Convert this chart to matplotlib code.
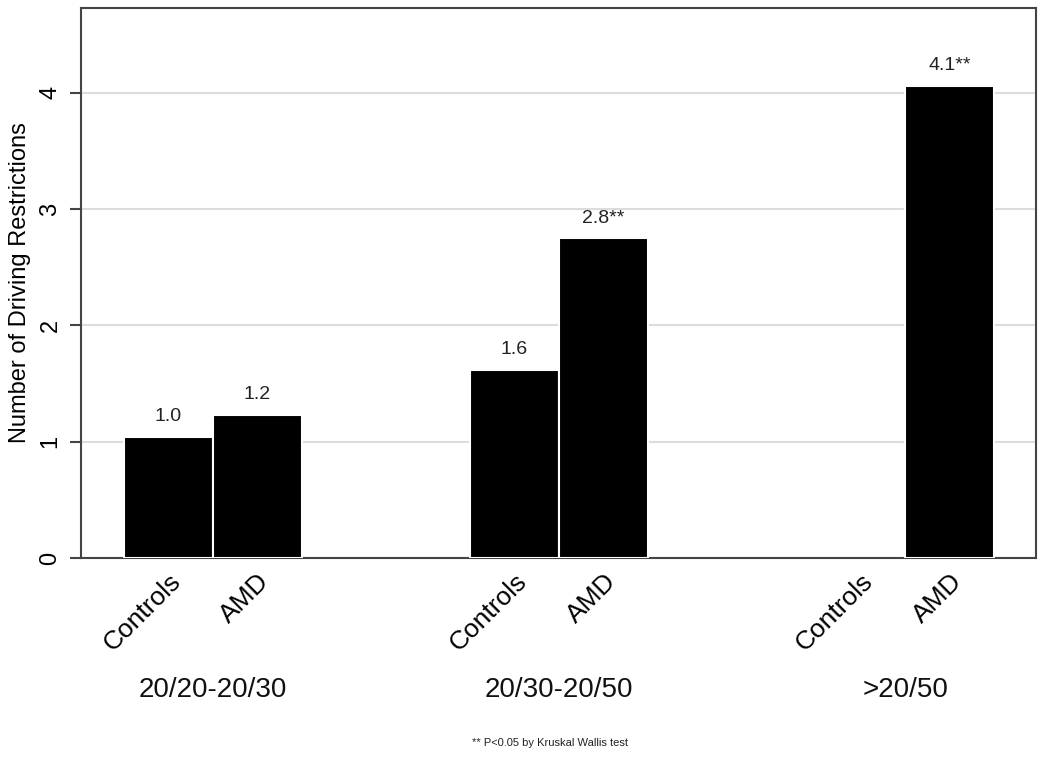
import matplotlib
matplotlib.use("Agg")
import matplotlib.pyplot as plt
import matplotlib.transforms as mtransforms
import numpy as np

plt.rcParams['font.family'] = ['Liberation Sans', 'DejaVu Sans']

groups = ["20/20-20/30", "20/30-20/50", ">20/50"]
subjects = ["Controls", "AMD"]
values = [[1.04, 1.23], [1.62, 2.75], [np.nan, 4.06]]
labels = [["1.0", "1.2"], ["1.6", "2.8**"], ["", "4.1**"]]
footnote = "** P<0.05 by Kruskal Wallis test"

fig = plt.figure(figsize=(10.5, 7.59), dpi=100)
ax = fig.add_axes([81/1050, 1-558/759, (1036-81)/1050, (558-8)/759])

group_step = 3.89
width = 1.0
tick_pos = []
tick_lab = []
for g, grp in enumerate(groups):
    c = g * group_step
    for s, sub in enumerate(subjects):
        x = c + (s - 0.5) * width
        tick_pos.append(x)
        tick_lab.append(sub)
        v = values[g][s]
        if not np.isnan(v):
            ax.bar(x, v, width=width, color='black', edgecolor='white', linewidth=1.5, zorder=3)
            ax.text(x, v + 0.1, labels[g][s], ha='center', va='bottom', fontsize=14, color='#222222')
    ax.text(c, -0.24, grp, transform=ax.get_xaxis_transform(), ha='center', va='center', fontsize=20, color='#111111')

ax.set_xlim(-1.48, 9.25)
ax.set_ylim(0, 4.73)
ax.set_yticks([0, 1, 2, 3, 4])
ax.set_yticklabels(["0", "1", "2", "3", "4"], rotation=90, va='center', fontsize=17)
ax.set_xticks(tick_pos)
ax.set_xticklabels(tick_lab, rotation=45, ha='right', rotation_mode='anchor', fontsize=19)
offset = mtransforms.ScaledTranslation(-10/100, 0, fig.dpi_scale_trans)
for lbl in ax.get_xticklabels():
    lbl.set_transform(lbl.get_transform() + offset)
ax.tick_params(axis='x', length=0, pad=8)
ax.tick_params(axis='y', length=8, width=1.5, color='#444444', pad=6)
ax.set_ylabel("Number of Driving Restrictions", fontsize=17, labelpad=6)
ax.yaxis.grid(True, color='#dcdcdc', linewidth=1.5, zorder=0)
ax.set_axisbelow(True)
for sp in ax.spines.values():
    sp.set_color('#444444')
    sp.set_linewidth(1.5)

fig.text(550/1050, 1-743/759, footnote, ha='center', va='center', fontsize=8, color='#222222')

fig.savefig("out.png", dpi=100)
